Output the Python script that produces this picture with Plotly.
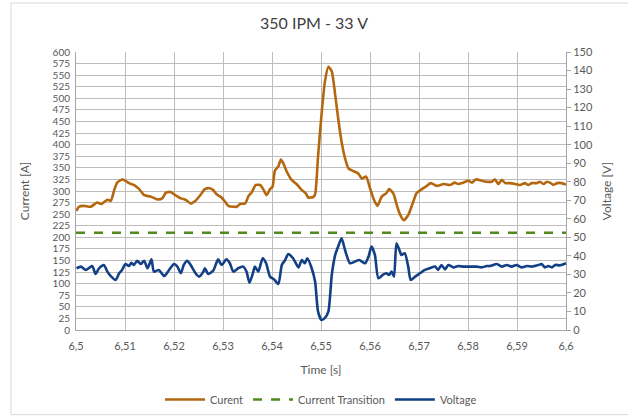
import plotly.graph_objects as go

# ---- data ----
current_t = [6.5001, 6.5006, 6.5016, 6.5030, 6.5043, 6.5052, 6.5064, 6.5071, 6.5078, 6.5084,
             6.5094, 6.5101, 6.5108, 6.5118, 6.5129, 6.5139, 6.5152, 6.5166, 6.5176, 6.5183,
             6.5193, 6.5200, 6.5214, 6.5224, 6.5234, 6.5244, 6.5253, 6.5263, 6.5273, 6.5280,
             6.5287, 6.5297, 6.5304, 6.5311, 6.5321, 6.5328, 6.5335, 6.5345, 6.5352, 6.5359,
             6.5367, 6.5376, 6.5382, 6.5389, 6.5396, 6.5401, 6.5406, 6.5413, 6.5418, 6.5423,
             6.5430, 6.5440, 6.5450, 6.5461, 6.5469, 6.5474, 6.5484, 6.5488, 6.5494, 6.5501,
             6.5508, 6.5515, 6.5522, 6.5529, 6.5535, 6.5542, 6.5549, 6.5556, 6.5566, 6.5576,
             6.5583, 6.5592, 6.5600, 6.5608, 6.5615, 6.5624, 6.5633, 6.5639, 6.5648, 6.5654,
             6.5661, 6.5669, 6.5678, 6.5687, 6.5695, 6.5706, 6.5716, 6.5724, 6.5736, 6.5750,
             6.5763, 6.5773, 6.5780, 6.5790, 6.5801, 6.5808, 6.5816, 6.5828, 6.5838, 6.5848,
             6.5855, 6.5862, 6.5869, 6.5876, 6.5886, 6.5896, 6.5906, 6.5916, 6.5923, 6.5930,
             6.5940, 6.5947, 6.5954, 6.5961, 6.5969, 6.5974, 6.5982, 6.5991, 6.6000]
current_a = [257, 266, 268, 266, 275, 272, 281, 279, 302, 318,
             325, 322, 317, 313, 304, 291, 288, 282, 284, 296,
             298, 293, 284, 281, 273, 279, 290, 304, 306, 302,
             293, 286, 277, 268, 266, 266, 272, 273, 289, 298,
             313, 313, 304, 291, 304, 309, 344, 353, 368, 360,
             342, 324, 315, 302, 295, 286, 287, 293, 375, 464,
             536, 568, 558, 507, 457, 406, 371, 349, 343, 338,
             327, 331, 306, 281, 268, 288, 295, 304, 294, 272,
             250, 237, 248, 273, 295, 304, 311, 317, 311, 315,
             313, 318, 315, 318, 322, 318, 325, 322, 320, 320,
             325, 315, 324, 317, 317, 315, 313, 317, 313, 317,
             317, 320, 315, 320, 317, 313, 317, 317, 314]

voltage_t = [6.5001, 6.5010, 6.5020, 6.5033, 6.5040, 6.5047, 6.5057, 6.5064, 6.5071, 6.5081,
             6.5088, 6.5094, 6.5101, 6.5108, 6.5113, 6.5118, 6.5125, 6.5132, 6.5139, 6.5146,
             6.5154, 6.5159, 6.5169, 6.5180, 6.5190, 6.5200, 6.5207, 6.5214, 6.5220, 6.5227,
             6.5234, 6.5244, 6.5251, 6.5260, 6.5263, 6.5270, 6.5280, 6.5290, 6.5297, 6.5307,
             6.5314, 6.5321, 6.5331, 6.5341, 6.5348, 6.5354, 6.5361, 6.5365, 6.5372, 6.5381,
             6.5388, 6.5396, 6.5404, 6.5413, 6.5420, 6.5427, 6.5433, 6.5443, 6.5454, 6.5461,
             6.5467, 6.5472, 6.5481, 6.5488, 6.5494, 6.5501, 6.5508, 6.5515, 6.5522, 6.5529,
             6.5535, 6.5542, 6.5549, 6.5559, 6.5569, 6.5578, 6.5590, 6.5597, 6.5603, 6.5610,
             6.5617, 6.5626, 6.5633, 6.5639, 6.5644, 6.5649, 6.5654, 6.5660, 6.5664, 6.5671,
             6.5678, 6.5683, 6.5692, 6.5702, 6.5712, 6.5722, 6.5733, 6.5739, 6.5746, 6.5753,
             6.5760, 6.5770, 6.5780, 6.5790, 6.5804, 6.5818, 6.5828, 6.5838, 6.5845, 6.5859,
             6.5869, 6.5879, 6.5889, 6.5899, 6.5909, 6.5920, 6.5930, 6.5944, 6.5950, 6.5957,
             6.5964, 6.5971, 6.5978, 6.5988, 6.6000]
voltage_v = [33.3, 34.2, 32.4, 34.5, 30.2, 33.3, 35.1, 31.5, 29.1, 27.0,
             30.6, 32.4, 35.6, 34.5, 36.3, 35.1, 37.4, 35.6, 37.4, 33.3,
             38.1, 31.5, 32.4, 29.1, 32.4, 35.6, 34.2, 30.6, 35.1, 37.4,
             35.1, 30.6, 28.8, 31.5, 33.3, 30.2, 32.0, 38.1, 35.1, 38.1,
             36.0, 31.5, 33.3, 34.2, 31.5, 25.5, 30.6, 34.2, 31.5, 38.7,
             36.0, 28.8, 27.4, 24.8, 35.1, 37.8, 41.0, 38.7, 33.8, 37.8,
             36.0, 38.7, 33.3, 26.0, 9.9, 5.4, 6.5, 9.9, 29.7, 40.5,
             45.0, 49.5, 43.2, 36.0, 36.9, 37.8, 36.0, 39.6, 45.0, 40.5,
             27.9, 29.7, 30.6, 29.7, 31.5, 28.8, 46.8, 43.2, 40.5, 41.4,
             34.2, 27.0, 28.8, 30.6, 32.4, 33.3, 34.2, 32.4, 35.1, 32.7,
             35.1, 33.8, 34.5, 34.2, 34.2, 34.2, 33.8, 34.5, 34.5, 35.6,
             34.2, 35.1, 34.2, 35.1, 33.8, 34.5, 34.2, 35.1, 35.6, 33.8,
             34.5, 33.8, 35.1, 34.9, 36.0]

transition_t = [6.5, 6.6]
transition_a = [210, 210]

x_ticks = [6.50, 6.51, 6.52, 6.53, 6.54, 6.55, 6.56, 6.57, 6.58, 6.59, 6.60]
x_tick_labels = ["6,5", "6,51", "6,52", "6,53", "6,54", "6,55", "6,56", "6,57", "6,58", "6,59", "6,6"]

FONT = "Lato, 'Open Sans', sans-serif"
GRID = "#bdbdbd"
TXT = "#595959"

fig = go.Figure()
fig.add_trace(go.Scatter(x=current_t, y=current_a, name="Curent", mode="lines",
                         line=dict(color="#b5670f", width=2.6, shape="spline", smoothing=0.6)))
fig.add_trace(go.Scatter(x=transition_t, y=transition_a, name="Current Transition", mode="lines",
                         line=dict(color="#4e8a1e", width=2.6, dash="dash")))
fig.add_trace(go.Scatter(x=voltage_t, y=voltage_v, name="Voltage", mode="lines", yaxis="y2",
                         line=dict(color="#123f85", width=2.6, shape="spline", smoothing=0.6)))

fig.update_layout(
    width=628, height=418,
    margin=dict(l=76, r=62, t=52, b=88, autoexpand=False),
    paper_bgcolor="white", plot_bgcolor="white",
    font=dict(family=FONT, size=10, color=TXT),
    title=dict(text="350 IPM - 33 V", x=0.5, xanchor="center", y=0.945, yanchor="middle",
               font=dict(size=16, color="#404040", family=FONT)),
    xaxis=dict(range=[6.5, 6.6], tickvals=x_ticks, ticktext=x_tick_labels,
               showgrid=True, gridcolor=GRID, gridwidth=1,
               showline=True, linecolor="#a6a6a6", linewidth=1,
               ticks="", zeroline=False, ticklabelstandoff=6, automargin=False,
               title=dict(text="Time [s]", font=dict(size=12, color=TXT), standoff=14),
               tickfont=dict(size=11, color=TXT)),
    yaxis=dict(range=[0, 600], dtick=25, showgrid=True, gridcolor=GRID, gridwidth=1,
               showline=True, linecolor="#a6a6a6", linewidth=1, ticks="", zeroline=False,
               ticklabelstandoff=3, automargin=False,
               title=dict(text="Current [A]", font=dict(size=12, color=TXT), standoff=20),
               tickfont=dict(size=10, color=TXT)),
    yaxis2=dict(range=[0, 150], dtick=10, overlaying="y", side="right", showgrid=False,
                showline=True, linecolor="#a6a6a6", linewidth=1, ticks="outside",
                ticklen=4, tickcolor="#a6a6a6", zeroline=False, automargin=False,
                title=dict(text="Voltage [V]", font=dict(size=12, color=TXT), standoff=10),
                tickfont=dict(size=11, color=TXT)),
    legend=dict(orientation="h", x=0.5, xanchor="center", y=-0.25, yanchor="middle",
                font=dict(size=11, color=TXT), bgcolor="rgba(0,0,0,0)",
                itemwidth=40, tracegroupgap=0),
    showlegend=True,
    shapes=[dict(type="rect", xref="paper", yref="paper",
                 x0=-0.1327, x1=1.2, y0=-0.3045, y1=1.176,
                 line=dict(color="#d9d9d9", width=1), fillcolor="rgba(0,0,0,0)", layer="below")],
)

fig.write_html("out.html")
